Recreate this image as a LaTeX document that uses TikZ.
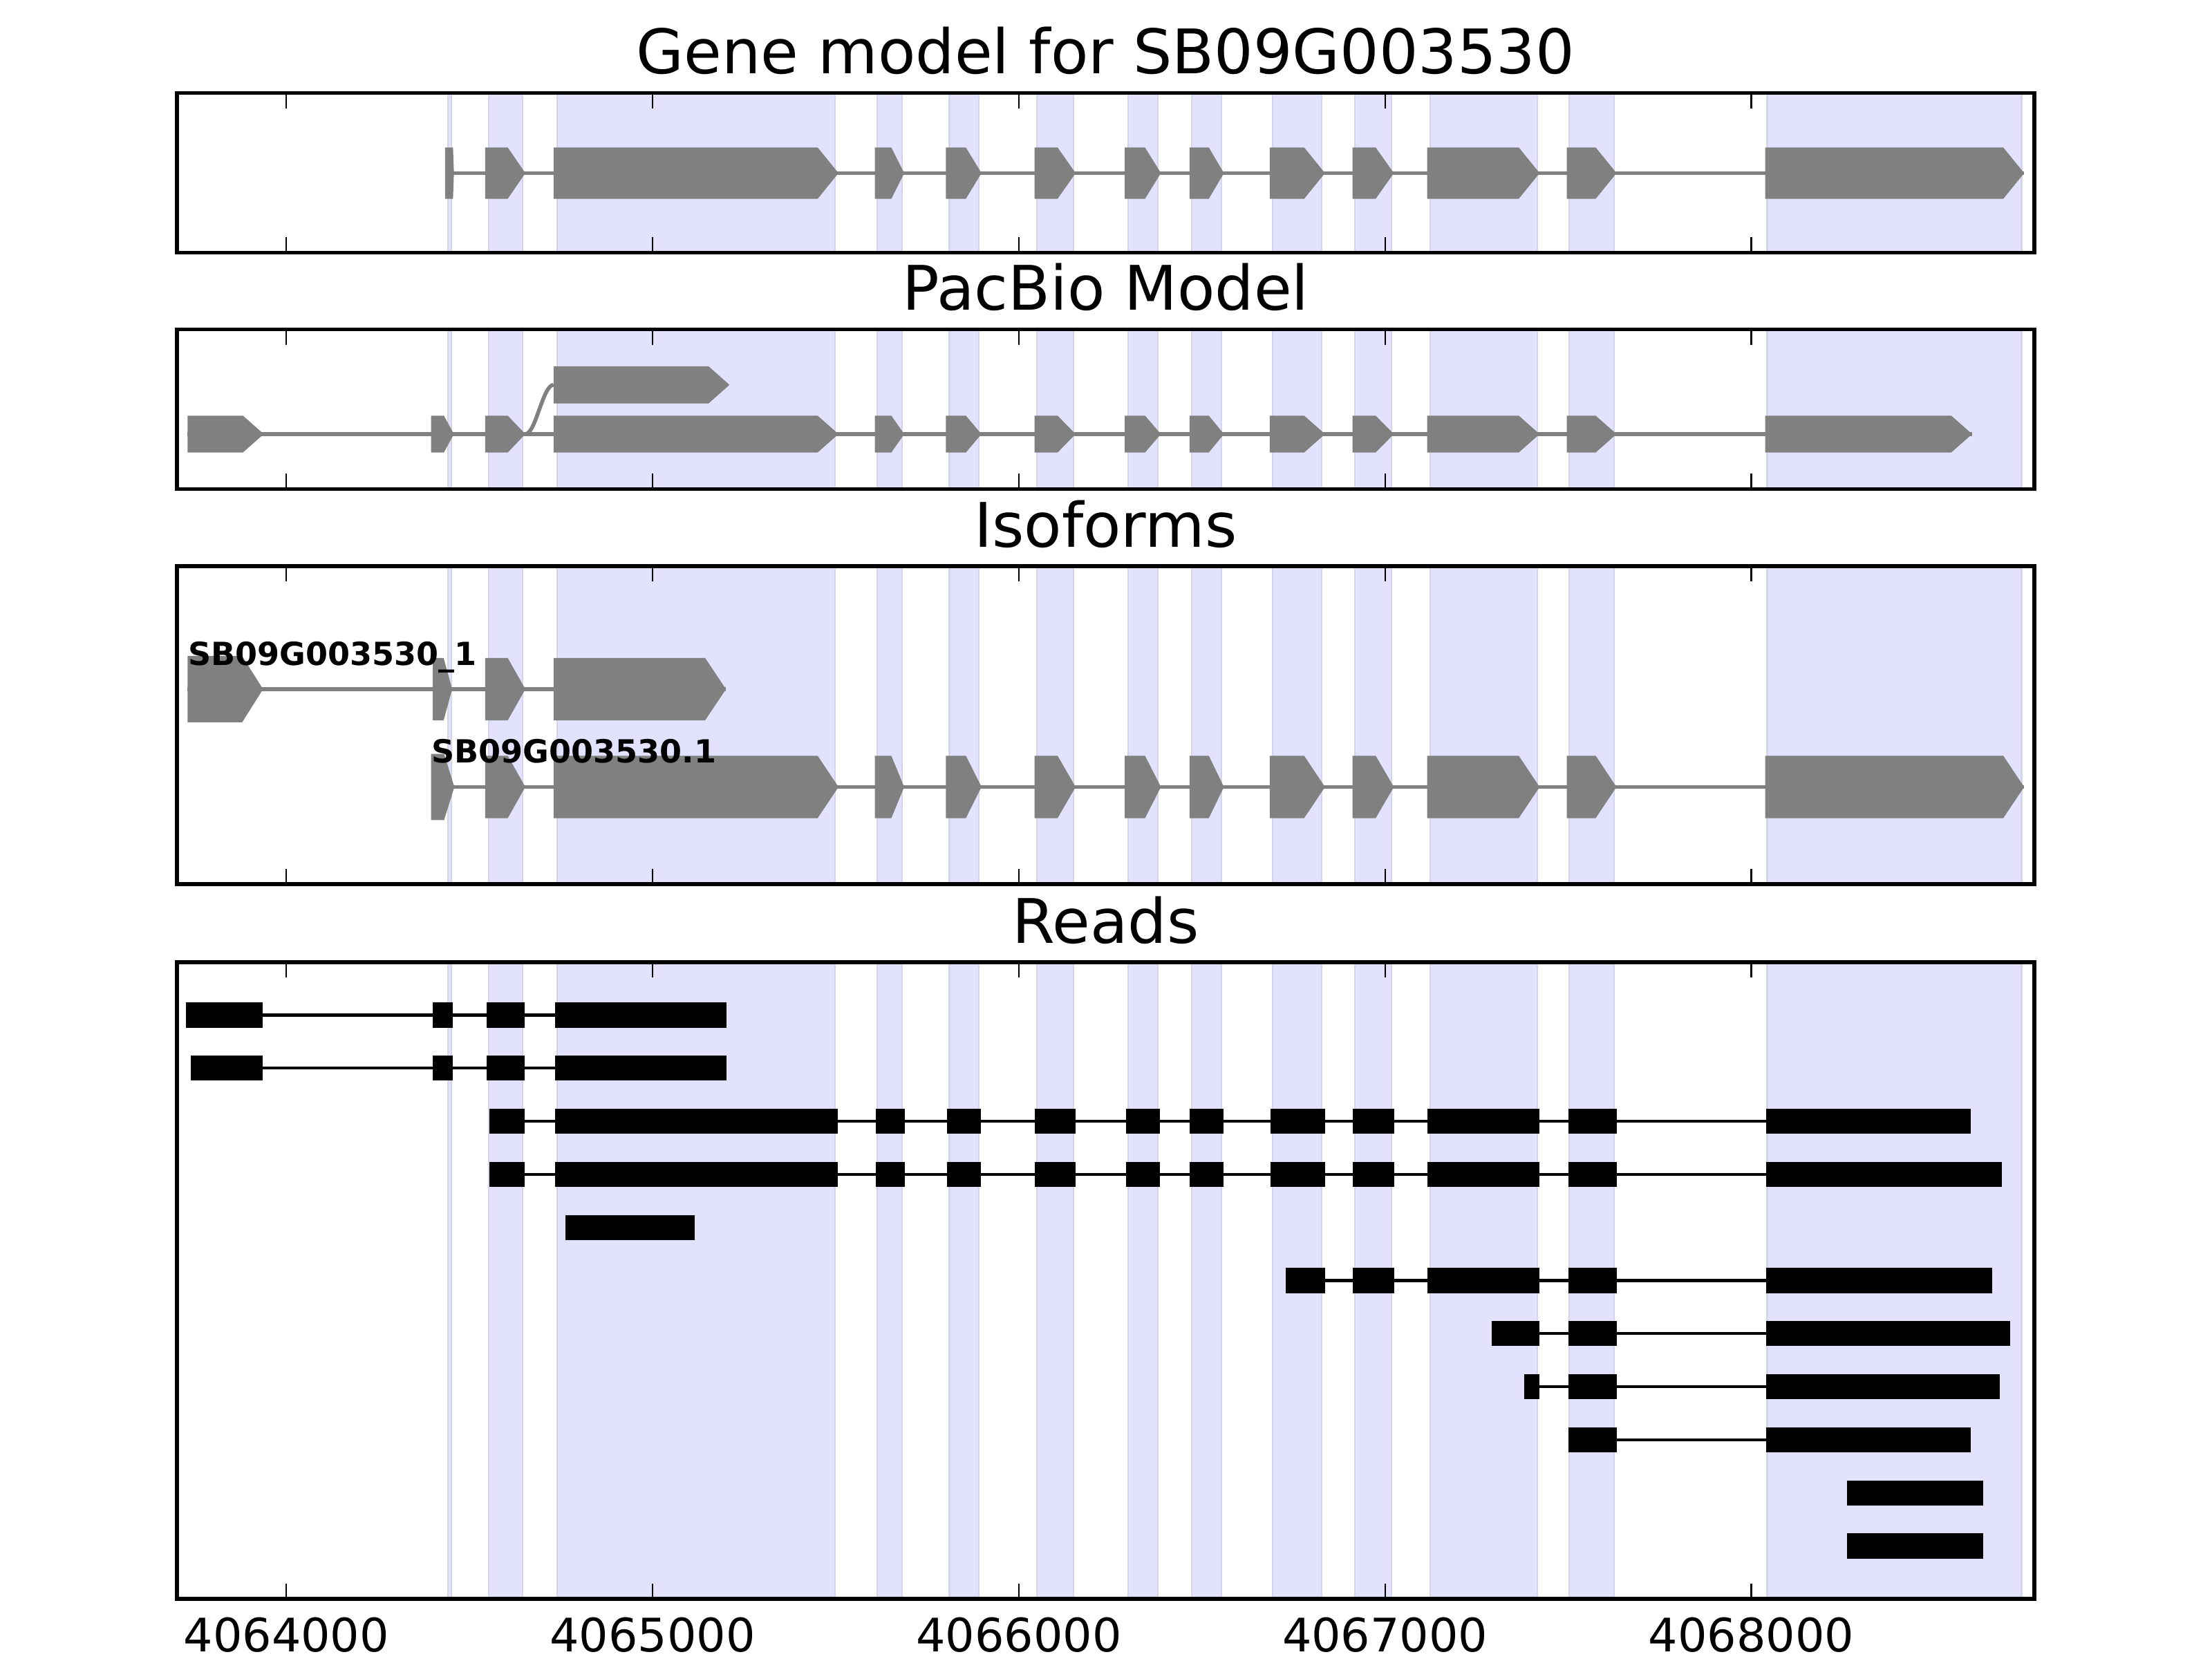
\documentclass[tikz,border=0pt]{standalone}
\usepackage{fontspec}
\setmainfont{DejaVu Sans}

\definecolor{bandblue}{RGB}{226,226,255}
\definecolor{bandedge}{RGB}{212,212,236}
\definecolor{exongray}{RGB}{128,128,128}

\tikzset{
  band/.style={fill=bandblue,draw=bandedge,line width=0.6pt},
  exonshape/.style={fill=exongray},
  intron/.style={draw=exongray,line width=1.58pt},
  readbar/.style={fill=black},
  readline/.style={draw=black,line width=1.22pt},
  frame/.style={draw=black,line width=1.58pt},
  tickmark/.style={draw=black,line width=0.6pt},
  paneltitle/.style={font=\fontsize{25.3}{30}\selectfont,anchor=base,inner sep=0pt},
  ticklabel/.style={font=\fontsize{19}{23}\selectfont,anchor=base,inner sep=0pt},
  isolabel/.style={font=\bfseries\fontsize{13.1}{15}\selectfont,anchor=base west,inner sep=0pt}
}

% shaded exon bands, #1 bottom, #2 top
\newcommand\exonbands[2]{%
  \draw[band] (0.4419,#1) rectangle (0.4502,#2);
  \draw[band] (0.5525,#1) rectangle (0.6453,#2);
  \draw[band] (0.7393,#1) rectangle (1.4981,#2);
  \draw[band] (1.6131,#1) rectangle (1.6816,#2);
  \draw[band] (1.8105,#1) rectangle (1.8900,#2);
  \draw[band] (2.0489,#1) rectangle (2.1487,#2);
  \draw[band] (2.2992,#1) rectangle (2.3800,#2);
  \draw[band] (2.4726,#1) rectangle (2.5532,#2);
  \draw[band] (2.6929,#1) rectangle (2.8277,#2);
  \draw[band] (2.9181,#1) rectangle (3.0179,#2);
  \draw[band] (3.1227,#1) rectangle (3.4151,#2);
  \draw[band] (3.5026,#1) rectangle (3.6257,#2);
  \draw[band] (4.0434,#1) rectangle (4.7380,#2);
}

% frame and inward ticks, #1 bottom, #2 top
\newcommand\axisframe[2]{%
  \draw[frame] (-0.299,#1) rectangle (4.773,#2);
  \draw[tickmark] (0,#1) -- (0,#1+0.222) (0,#2) -- (0,#2-0.222);
  \draw[tickmark] (1,#1) -- (1,#1+0.222) (1,#2) -- (1,#2-0.222);
  \draw[tickmark] (2,#1) -- (2,#1+0.222) (2,#2) -- (2,#2-0.222);
  \draw[tickmark] (3,#1) -- (3,#1+0.222) (3,#2) -- (3,#2-0.222);
  \draw[tickmark] (4,#1) -- (4,#1+0.222) (4,#2) -- (4,#2-0.222);
}

% exon arrow: start, end, centre, half height
\newcommand\exonbox[4]{%
  \pgfmathsetmacro\tiplen{min(0.44*(#2-(#1)),0.057)}%
  \fill[exonshape] (#1,#3-#4) -- (#2-\tiplen,#3-#4) -- (#2,#3) -- (#2-\tiplen,#3+#4) -- (#1,#3+#4) -- cycle;
}

% exons 4 to 12 shared by gene model, PacBio and isoform
\newcommand\midexons[2]{%
  \exonbox{1.607}{1.687}{#1}{#2}
  \exonbox{1.801}{1.898}{#1}{#2}
  \exonbox{2.043}{2.155}{#1}{#2}
  \exonbox{2.289}{2.388}{#1}{#2}
  \exonbox{2.466}{2.560}{#1}{#2}
  \exonbox{2.685}{2.836}{#1}{#2}
  \exonbox{2.911}{3.024}{#1}{#2}
  \exonbox{3.115}{3.422}{#1}{#2}
  \exonbox{3.496}{3.632}{#1}{#2}
}

% read block: start, end, centre
\newcommand\readbox[3]{%
  \fill[readbar] (#1,#3-0.1815) rectangle (#2,#3+0.1815);
}

% read blocks 4 to 11 of the long reads
\newcommand\readmid[1]{%
  \readbox{1.6089}{1.6881}{#1}
  \readbox{1.8048}{1.8956}{#1}
  \readbox{2.0432}{2.1544}{#1}
  \readbox{2.2935}{2.3856}{#1}
  \readbox{2.4658}{2.5598}{#1}
  \readbox{2.6865}{2.8368}{#1}
  \readbox{2.9118}{3.0246}{#1}
  \readbox{3.1153}{3.4206}{#1}
  \readbox{3.5004}{3.6333}{#1}
}

\begin{document}
\begin{tikzpicture}
\useasboundingbox (0,0) rectangle (32,24);

\node[paneltitle] (gene-title) at (15.995,22.931) {Gene model for SB09G003530};
\node[paneltitle] (pacbio-title) at (15.995,19.511) {PacBio Model};
\node[paneltitle] (iso-title) at (15.995,16.088) {Isoforms};
\node[paneltitle] (reads-title) at (15.995,10.358) {Reads};

\begin{scope}[x=5.298cm,xshift=4.143cm]

% gene model
\exonbands{20.343}{22.653}
\draw[intron] (0.4334,21.495) -- (4.745,21.495);
\fill[exonshape] (0.4334,21.123) -- (0.4550,21.123) -- (0.4575,21.495) -- (0.4550,21.867) -- (0.4334,21.867) -- cycle;
\exonbox{0.543}{0.6525}{21.495}{0.372}
\exonbox{0.7295}{1.5075}{21.495}{0.372}
\midexons{21.495}{0.372}
\exonbox{4.038}{4.745}{21.495}{0.372}
\axisframe{20.343}{22.653}

% pacbio
\exonbands{16.923}{19.233}
\draw[intron] (-0.2697,17.72) -- (4.603,17.72);
\draw[intron] (0.6525,17.72) .. controls (0.681,17.72) and (0.700,18.432) .. (0.7295,18.432);
\exonbox{-0.2697}{-0.0618}{17.72}{0.267}
\exonbox{0.3949}{0.4575}{17.72}{0.267}
\exonbox{0.543}{0.6525}{17.72}{0.267}
\exonbox{0.7295}{1.5075}{17.72}{0.267}
\midexons{17.72}{0.267}
\exonbox{4.038}{4.603}{17.72}{0.267}
\exonbox{0.7295}{1.2099}{18.432}{0.268}
\axisframe{16.923}{19.233}

% isoforms
\exonbands{11.21}{15.81}
\draw[intron] (-0.2697,14.03) -- (1.2003,14.03);
\exonbox{-0.2697}{-0.0638}{14.03}{0.48}
\exonbox{0.3996}{0.4526}{14.03}{0.452}
\exonbox{0.543}{0.6525}{14.03}{0.452}
\exonbox{0.7295}{1.2003}{14.03}{0.452}
\node[isolabel] (iso-a) at (-0.2697,14.375) {SB09G003530\_1};
\draw[intron] (0.3949,12.615) -- (4.745,12.615);
\exonbox{0.3949}{0.4587}{12.615}{0.478}
\exonbox{0.543}{0.6525}{12.615}{0.452}
\exonbox{0.7295}{1.5075}{12.615}{0.452}
\midexons{12.615}{0.452}
\exonbox{4.038}{4.745}{12.615}{0.452}
\node[isolabel] (iso-b) at (0.3949,12.96) {SB09G003530.1};
\axisframe{11.21}{15.81}

% reads
\exonbands{0.87}{10.08}
\draw[readline] (-0.2749,9.315) -- (1.2016,9.315);
\readbox{-0.2749}{-0.0655}{9.315}
\readbox{0.4005}{0.4549}{9.315}
\readbox{0.5476}{0.6508}{9.315}
\readbox{0.7342}{1.2016}{9.315}
\draw[readline] (-0.2614,8.547) -- (1.2016,8.547);
\readbox{-0.2614}{-0.0655}{8.547}
\readbox{0.4005}{0.4549}{8.547}
\readbox{0.5476}{0.6508}{8.547}
\readbox{0.7342}{1.2016}{8.547}
\draw[readline] (0.5542,7.779) -- (4.5990,7.779);
\readbox{0.5542}{0.6508}{7.779}
\readbox{0.7342}{1.5062}{7.779}
\readmid{7.779}
\readbox{4.0403}{4.5990}{7.779}
\draw[readline] (0.5542,7.011) -- (4.6841,7.011);
\readbox{0.5542}{0.6508}{7.011}
\readbox{0.7342}{1.5062}{7.011}
\readmid{7.011}
\readbox{4.0403}{4.6841}{7.011}
\readbox{0.7619}{1.1155}{6.243}
\draw[readline] (2.7288,5.475) -- (4.6583,5.475);
\readbox{2.7288}{2.8368}{5.475}
\readbox{2.9118}{3.0246}{5.475}
\readbox{3.1153}{3.4206}{5.475}
\readbox{3.5004}{3.6333}{5.475}
\readbox{4.0403}{4.6583}{5.475}
\draw[readline] (3.2907,4.707) -- (4.7072,4.707);
\readbox{3.2907}{3.4206}{4.707}
\readbox{3.5004}{3.6333}{4.707}
\readbox{4.0403}{4.7072}{4.707}
\draw[readline] (3.3798,3.939) -- (4.6787,3.939);
\readbox{3.3798}{3.4206}{3.939}
\readbox{3.5004}{3.6333}{3.939}
\readbox{4.0403}{4.6787}{3.939}
\draw[readline] (3.5004,3.171) -- (4.5990,3.171);
\readbox{3.5004}{3.6333}{3.171}
\readbox{4.0403}{4.5990}{3.171}
\readbox{4.2609}{4.6333}{2.403}
\readbox{4.2609}{4.6333}{1.635}
\axisframe{0.87}{10.08}

\node[ticklabel] (lab-4064000) at (0,0.10) {4064000};
\node[ticklabel] (lab-4065000) at (1,0.10) {4065000};
\node[ticklabel] (lab-4066000) at (2,0.10) {4066000};
\node[ticklabel] (lab-4067000) at (3,0.10) {4067000};
\node[ticklabel] (lab-4068000) at (4,0.10) {4068000};

\end{scope}
\end{tikzpicture}
\end{document}
